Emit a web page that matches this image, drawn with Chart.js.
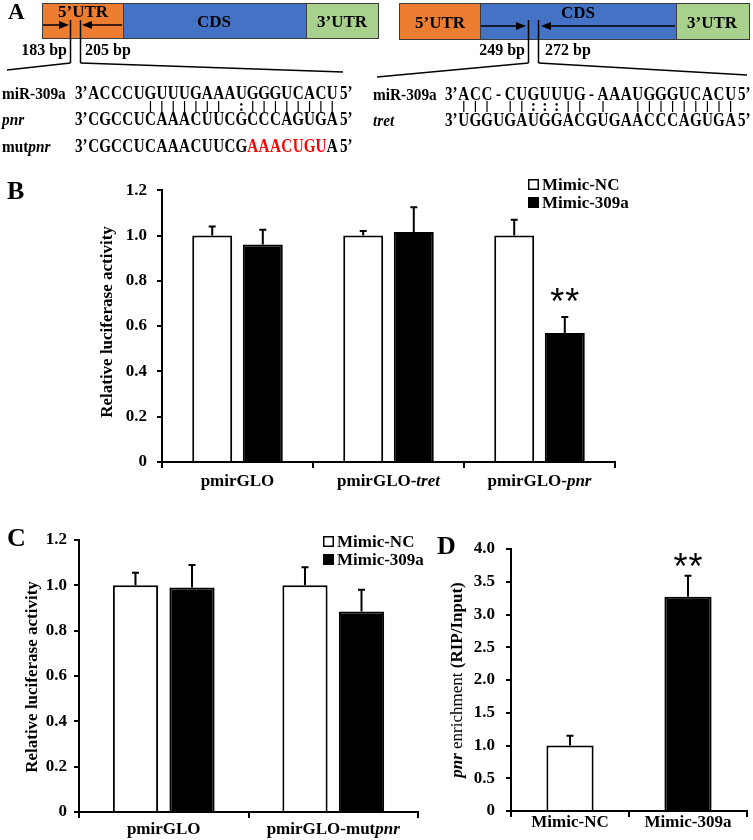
<!DOCTYPE html>
<html>
<head>
<meta charset="utf-8">
<script src="https://cdn.jsdelivr.net/npm/chart.js@4.4.0/dist/chart.umd.min.js"></script>
<style>
    body { margin: 0; background: #fff; width: 753px; height: 840px; position: relative; overflow: hidden;
           font-family: "Liberation Serif", "Times New Roman", serif; }
    canvas { position: absolute; }
    .panel { position: absolute; font-weight: bold; font-size: 26px; line-height: 1; }
</style>
</head>
<body>
<canvas id="diagram" width="753" height="170" style="left:0;top:0"></canvas>
<canvas id="chartB" width="753" height="330" style="left:0;top:170px"></canvas>
<canvas id="chartC" width="440" height="340" style="left:0;top:500px"></canvas>
<canvas id="chartD" width="313" height="340" style="left:440px;top:500px"></canvas>
<div class="panel" style="left:8px;top:0;font-size:23px">A</div>
<div class="panel" style="left:7px;top:178px">B</div>
<div class="panel" style="left:7px;top:525px">C</div>
<div class="panel" style="left:437px;top:533px">D</div>

<script>
// Panel B - luciferase reporter
const bCategories = ['pmirGLO', 'pmirGLO-tret', 'pmirGLO-pnr'];
const bItalic = ['', 'tret', 'pnr'];
const bMimicNC = [1.00, 1.00, 1.00];
const bMimicNCErr = [0.04, 0.02, 0.07];
const bMimic309a = [0.96, 1.015, 0.57];
const bMimic309aErr = [0.065, 0.11, 0.07];
const bStars = ['', '', '**'];

// Panel C - mutated site
const cCategories = ['pmirGLO', 'pmirGLO-mutpnr'];
const cItalic = ['', 'pnr'];
const cMimicNC = [1.00, 1.00];
const cMimicNCErr = [0.055, 0.08];
const cMimic309a = [0.99, 0.885];
const cMimic309aErr = [0.10, 0.095];

// Panel D - RIP
const dCategories = ['Mimic-NC', 'Mimic-309a'];
const dEnrichment = [1.00, 3.27];
const dEnrichmentErr = [0.15, 0.32];
const dStars = ['', '**'];

// tick labels
const lucTicks = ['0', '0.2', '0.4', '0.6', '0.8', '1.0', '1.2'];
const ripTicks = ['0', '0.5', '1.0', '1.5', '2.0', '2.5', '3.0', '3.5', '4.0'];

// Panel A sequences
const leftMir  = 'ACCCUGUUUGAAAUGGGUCACU';
const leftPair = '     ||||||| :||||||||';
const leftPnr  = 'CGCCUCAAACUUCGCCCAGUGA';
const leftMut  = 'CGCCUCAAACUUCGAAACUGUA';
const rightMir  = 'ACC-CUGUUUG-AAAUGGGUCACU';
const rightPair = '||| ||:::|| |  |||||||||';
const rightTret = 'UGGUGAUGGACGUGAACCCAGUGA';

const SERIF = '"Liberation Serif", "Times New Roman", serif';

// ---------- Panel A ----------
function drawDiagram() {
    const ctx = document.getElementById('diagram').getContext('2d');

    function box(x0, x1, y0, y1, color) {
        ctx.fillStyle = color;
        ctx.fillRect(x0, y0, x1 - x0, y1 - y0);
        ctx.strokeStyle = '#3c3c3c';
        ctx.lineWidth = 1;
        ctx.strokeRect(x0 + 0.5, y0 + 0.5, x1 - x0, y1 - y0);
    }
    function text(str, x, y, font, align, color) {
        ctx.font = font;
        ctx.textAlign = align || 'left';
        ctx.textBaseline = 'alphabetic';
        ctx.fillStyle = color || '#000';
        ctx.fillText(str, x, y);
    }
    // narrow text, like the condensed lettering of the figure
    function ntext(str, x, y, font, align, color, sx) {
        ctx.save();
        ctx.translate(x, y);
        ctx.scale(sx || 0.84, 1);
        text(str, 0, 0, font, align, color);
        ctx.restore();
    }
    function line(x0, y0, x1, y1, w) {
        ctx.strokeStyle = '#000';
        ctx.lineWidth = w || 1.5;
        ctx.beginPath();
        ctx.moveTo(x0, y0);
        ctx.lineTo(x1, y1);
        ctx.stroke();
    }
    function arrow(x0, y, tip) {
        const dir = tip > x0 ? 1 : -1;
        line(x0, y, tip - dir * 8, y, 1.5);
        ctx.fillStyle = '#000';
        ctx.beginPath();
        ctx.moveTo(tip, y);
        ctx.lineTo(tip - dir * 10, y - 4);
        ctx.lineTo(tip - dir * 10, y + 4);
        ctx.closePath();
        ctx.fill();
    }

    // transcript 1
    box(42, 123, 3, 38, '#ED7D31');
    box(123, 306, 3, 38, '#4472C4');
    box(306, 378, 3, 38, '#A9D18E');
    text('5’UTR', 83, 17, 'bold 17px ' + SERIF, 'center');
    text('CDS', 214, 27, 'bold 17px ' + SERIF, 'center');
    text('3’UTR', 342, 27, 'bold 17px ' + SERIF, 'center');
    arrow(43, 25, 69);
    arrow(122, 25, 82);
    line(70.5, 20, 70.5, 63);
    line(80.5, 20, 80.5, 63);
    text('183 bp', 67, 55, 'bold 16px ' + SERIF, 'right');
    text('205 bp', 85, 55, 'bold 16px ' + SERIF, 'left');
    line(70.5, 63, 7, 70);
    line(80.5, 63, 343, 72);

    // transcript 2
    box(399, 480, 3, 39, '#ED7D31');
    box(480, 676, 3, 39, '#4472C4');
    box(676, 749, 3, 39, '#A9D18E');
    text('5’UTR', 440, 28, 'bold 17px ' + SERIF, 'center');
    text('CDS', 578, 18, 'bold 17px ' + SERIF, 'center');
    text('3’UTR', 712, 28, 'bold 17px ' + SERIF, 'center');
    arrow(481, 26, 526);
    arrow(675, 26, 541);
    line(528.5, 20, 528.5, 63);
    line(538.5, 20, 538.5, 63);
    text('249 bp', 525, 55, 'bold 16px ' + SERIF, 'right');
    text('272 bp', 545, 55, 'bold 16px ' + SERIF, 'left');
    line(528.5, 63, 377, 77);
    line(538.5, 63, 747, 75);

    // sequences, one letter per fixed pitch so the pairing marks line up
    const seqFont = 'bold 18px ' + SERIF;
    const labFont = 'bold 17px ' + SERIF;
    const itFont = 'italic bold 17px ' + SERIF;
    const ls = 0.9;
    function seq(str, x0, pitch, base, red) {
        for (let i = 0; i < str.length; i++) {
            ntext(str[i], x0 + pitch * (i + 0.5), base, seqFont, 'center',
                  red && red(i) ? '#FF0000' : '#000');
        }
    }
    function pairs(str, x0, pitch, yTop, yBot) {
        for (let i = 0; i < str.length; i++) {
            const cx = x0 + pitch * (i + 0.5);
            if (str[i] === '|') line(cx, yTop, cx, yBot, 1.2);
            if (str[i] === ':') text(':', cx, yBot - 1, 'bold 16px ' + SERIF, 'center');
        }
    }

    const lx = 88, lp = 11.36;
    ntext('miR-309a', 2, 99, labFont, 'left', '#000', ls);
    ntext('3’', 75, 99, seqFont);
    seq(leftMir, lx, lp, 99);
    ntext('5’', 340, 99, seqFont);
    pairs(leftPair, lx, lp, 101, 112);
    ntext('pnr', 2, 124.5, itFont, 'left', '#000', ls);
    ntext('3’', 75, 124.5, seqFont);
    seq(leftPnr, lx, lp, 124.5);
    ntext('5’', 340, 124.5, seqFont);
    ntext('mut', 2, 151.5, labFont, 'left', '#000', ls);
    ctx.font = labFont;
    const mw = ctx.measureText('mut').width * ls;
    ntext('pnr', 2 + mw, 151.5, itFont, 'left', '#000', ls);
    ntext('3’', 75, 151.5, seqFont);
    seq(leftMut, lx, lp, 151.5, i => i >= 14 && i <= 20);
    ntext('5’', 340, 151.5, seqFont);

    const rx = 458, rp = 11.6;
    ntext('miR-309a', 373, 100, labFont, 'left', '#000', ls);
    ntext('3’', 445, 100, seqFont);
    seq(rightMir, rx, rp, 100);
    ntext('5’', 738, 100, seqFont);
    pairs(rightPair, rx, rp, 101, 112);
    ntext('tret', 373, 125.5, itFont, 'left', '#000', ls);
    ntext('3’', 445, 125.5, seqFont);
    seq(rightTret, rx, rp, 125.5);
    ntext('5’', 738, 125.5, seqFont);
}

// ---------- Charts ----------
Chart.defaults.font.family = SERIF;
Chart.defaults.font.size = 17;
Chart.defaults.font.weight = 'bold';
Chart.defaults.color = '#000';

// error bars, stars, category labels, axis title and legend
const figPlugin = {
    id: 'fig',
    afterDraw(chart, args, o) {
        const ctx = chart.ctx;
        const xs = chart.scales.x, ys = chart.scales.y;
        ctx.save();

        chart.data.datasets.forEach((ds, di) => {
            const meta = chart.getDatasetMeta(di);
            meta.data.forEach((bar, i) => {
                const v = ds.data[i];
                const yTop = ys.getPixelForValue(v);
                const yErr = ys.getPixelForValue(v + ds.errorBars[i]);
                ctx.strokeStyle = '#000';
                ctx.lineWidth = 2;
                ctx.beginPath();
                ctx.moveTo(bar.x, yTop);
                ctx.lineTo(bar.x, yErr);
                ctx.moveTo(bar.x - 3.5, yErr);
                ctx.lineTo(bar.x + 3.5, yErr);
                ctx.stroke();
                if (ds.stars && ds.stars[i]) {
                    ctx.font = o.starFont;
                    ctx.textAlign = 'center';
                    ctx.textBaseline = 'alphabetic';
                    ctx.fillStyle = '#000';
                    const m = ctx.measureText('*');
                    const cy = yErr - o.starGap;
                    const by = cy + (m.actualBoundingBoxAscent - m.actualBoundingBoxDescent) / 2;
                    const n = ds.stars[i].length;
                    for (let k = 0; k < n; k++) {
                        ctx.fillText('*', bar.x + (k - (n - 1) / 2) * 15, by);
                    }
                }
            });
        });

        // category labels with italic gene names
        ctx.textBaseline = 'alphabetic';
        ctx.textAlign = 'left';
        chart.data.labels.forEach((lab, i) => {
            const it = o.italic ? o.italic[i] : '';
            const plain = it ? lab.slice(0, lab.length - it.length) : lab;
            ctx.font = 'bold 17px ' + SERIF;
            const w1 = ctx.measureText(plain).width;
            ctx.font = 'italic bold 17px ' + SERIF;
            const w2 = it ? ctx.measureText(it).width : 0;
            const x0 = xs.getPixelForValue(i) - (w1 + w2) / 2;
            ctx.fillStyle = '#000';
            ctx.font = 'bold 17px ' + SERIF;
            ctx.fillText(plain, x0, o.labelBase);
            if (it) {
                ctx.font = 'italic bold 17px ' + SERIF;
                ctx.fillText(it, x0 + w1, o.labelBase);
            }
        });

        // rotated y title
        ctx.save();
        ctx.translate(o.titleX, o.titleY);
        ctx.rotate(-Math.PI / 2);
        ctx.textBaseline = 'middle';
        let total = 0;
        o.title.forEach(p => { ctx.font = p[1] + ' 17px ' + SERIF; total += ctx.measureText(p[0]).width; });
        let tx = -total / 2;
        o.title.forEach(p => {
            ctx.font = p[1] + ' 17px ' + SERIF;
            ctx.fillText(p[0], tx, 0);
            tx += ctx.measureText(p[0]).width;
        });
        ctx.restore();

        // legend
        if (o.legend) {
            chart.data.datasets.forEach((ds, di) => {
                const base = o.legend.y + di * o.legend.dy;
                ctx.fillStyle = ds.backgroundColor;
                ctx.fillRect(o.legend.x, base - 11, 11, 11);
                ctx.strokeStyle = '#000';
                ctx.lineWidth = 1.5;
                ctx.strokeRect(o.legend.x + 0.75, base - 10.25, 9.5, 9.5);
                ctx.fillStyle = '#000';
                ctx.font = 'bold 17px ' + SERIF;
                ctx.textAlign = 'left';
                ctx.fillText(ds.label, o.legend.x + 14, base);
            });
        }
        ctx.restore();
    }
};

function barDataset(label, values, errors, fill, stars) {
    return {
        label: label,
        data: values,
        errorBars: errors,
        stars: stars,
        backgroundColor: fill,
        borderColor: '#000',
        borderWidth: 2
    };
}

function makeChart(id, labels, datasets, cfg) {
    return new Chart(document.getElementById(id), {
        type: 'bar',
        data: { labels: labels, datasets: datasets },
        plugins: [figPlugin],
        options: {
            responsive: false,
            animation: false,
            devicePixelRatio: 1,
            layout: { padding: cfg.padding },
            datasets: { bar: { categoryPercentage: cfg.catPct, barPercentage: cfg.barPct } },
            plugins: {
                legend: { display: false },
                tooltip: { enabled: false },
                fig: cfg.fig
            },
            scales: {
                x: {
                    grid: { drawOnChartArea: false, tickLength: 6, color: '#000', lineWidth: 2, offset: true },
                    border: { color: '#000', width: 2 },
                    ticks: { display: false },
                    afterFit: s => { s.height = cfg.xHeight; }
                },
                y: {
                    min: 0,
                    max: cfg.max,
                    grid: { drawOnChartArea: false, tickLength: 5, color: '#000', lineWidth: 2 },
                    border: { color: '#000', width: 2 },
                    ticks: {
                        stepSize: cfg.step,
                        padding: cfg.tickPad,
                        font: { size: 17, weight: 'bold' },
                        callback: (v, i) => cfg.tickLabels[i]
                    },
                    afterFit: s => { s.width = cfg.yWidth; }
                }
            }
        }
    });
}

drawDiagram();

makeChart('chartB', bCategories, [
    barDataset('Mimic-NC', bMimicNC, bMimicNCErr, '#ffffff'),
    barDataset('Mimic-309a', bMimic309a, bMimic309aErr, '#000000', bStars)
], {
    padding: { left: 0, right: 138, top: 20, bottom: 0 },
    yWidth: 162, xHeight: 38, max: 1.2, step: 0.2, tickPad: 10, tickLabels: lucTicks,
    catPct: 0.67, barPct: 0.79,
    fig: {
        italic: bItalic, labelBase: 316, titleX: 108, titleY: 152,
        title: [['Relative luciferase activity', 'bold']],
        legend: { x: 528, y: 20, dy: 18 },
        starFont: '36px "Liberation Sans", Arial, sans-serif', starGap: 22
    }
});

makeChart('chartC', cCategories, [
    barDataset('Mimic-NC', cMimicNC, cMimicNCErr, '#ffffff'),
    barDataset('Mimic-309a', cMimic309a, cMimic309aErr, '#000000')
], {
    padding: { left: 0, right: 22, top: 40, bottom: 0 },
    yWidth: 79, xHeight: 28, max: 1.2, step: 0.2, tickPad: 7, tickLabels: lucTicks,
    catPct: 0.667, barPct: 0.8,
    fig: {
        italic: cItalic, labelBase: 334, titleX: 33, titleY: 177,
        title: [['Relative luciferase activity', 'bold']],
        legend: { x: 323, y: 47, dy: 18 },
        starFont: '36px "Liberation Sans", Arial, sans-serif', starGap: 22
    }
});

makeChart('chartD', dCategories, [
    barDataset('RIP', dEnrichment, dEnrichmentErr, ['#ffffff', '#000000'], dStars)
], {
    padding: { left: 0, right: 6, top: 49, bottom: 0 },
    yWidth: 71, xHeight: 29, max: 4, step: 0.5, tickPad: 11, tickLabels: ripTicks,
    catPct: 0.5, barPct: 0.8,
    fig: {
        italic: null, labelBase: 327, titleX: 18, titleY: 180,
        title: [['pnr', 'italic bold'], [' enrichment ', 'normal'], ['(RIP/Input)', 'bold']],
        legend: null,
        starFont: '36px "Liberation Sans", Arial, sans-serif', starGap: 16
    }
});
</script>
</body>
</html>
